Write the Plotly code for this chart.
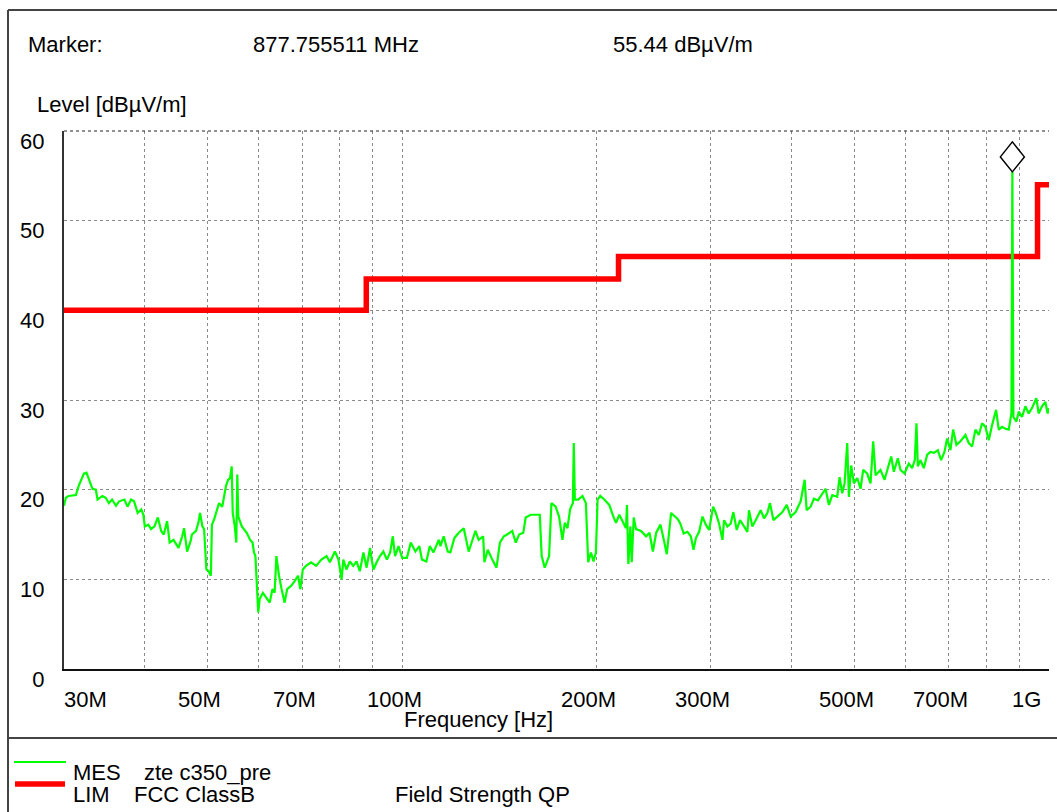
import numpy as np
import plotly.graph_objects as go

# MES trace, frequency in MHz / level in dBuV/m in three pieces
freq_low = [30.0, 30.2, 30.5, 31.3, 31.6, 32.2, 32.5, 32.8, 33.2, 33.6, 33.8, 34.4, 34.8, 35.2, 35.6,
            36.1, 36.5, 37.2, 37.6, 38.1, 38.5, 39.0, 39.5, 39.8, 40.0, 40.5, 40.9, 41.4, 41.9, 42.4,
            42.8, 43.3, 43.7, 44.3, 45.1, 45.7, 46.0, 46.5, 47.1, 47.3, 48.0, 48.4, 48.7, 49.1, 49.4,
            49.8, 50.2, 50.6, 50.8, 51.2, 51.8, 52.1, 52.7, 53.4, 53.8, 54.2, 54.5, 54.7, 55.1, 55.4,
            55.6, 55.8, 56.5, 57.5, 58.2, 58.7, 59.0, 59.3, 59.9, 60.2, 60.9, 61.6, 62.4, 63.0, 63.5,
            63.9, 64.5, 65.1, 65.8, 66.4, 67.4, 68.2, 69.0, 69.6, 70.2, 71.0, 72.3, 73.6, 75.0, 76.4,
            77.3, 78.7, 79.7]
level_low = [18.2, 19.1, 19.3, 19.4, 20.4, 21.8, 21.9, 21.1, 20.1, 20.0, 18.9, 19.3, 19.1, 18.5, 18.9,
             18.2, 18.7, 18.9, 18.1, 18.9, 18.7, 17.4, 17.8, 17.2, 15.9, 16.1, 15.6, 15.9, 16.9, 15.4,
             15.0, 16.5, 14.1, 14.4, 13.5, 14.8, 15.7, 13.1, 14.3, 15.0, 15.4, 16.3, 17.4, 15.9, 15.6,
             11.1, 10.9, 10.4, 16.1, 16.7, 17.8, 18.5, 18.1, 20.4, 21.1, 21.3, 22.6, 17.4, 15.9, 14.1,
             21.7, 17.0, 15.9, 15.2, 14.4, 14.1, 13.0, 12.6, 6.3, 7.8, 8.5, 8.0, 7.4, 8.9, 8.5,
             12.6, 10.4, 8.9, 7.4, 8.9, 9.3, 9.8, 10.4, 8.9, 11.1, 11.5, 11.9, 11.5, 12.2, 12.6,
             11.9, 13.1, 12.2]

freq_mid = [80.6, 81.1, 82.0, 83.0, 84.0, 85.0, 86.0, 87.1, 88.1, 89.2, 89.7, 90.3, 91.3, 92.4, 93.5,
            94.7, 95.8, 96.7, 97.5, 98.7, 100.0, 101.7, 103.1, 104.8, 106.3, 107.3, 109.0, 110.3, 111.8,
            113.9, 114.6, 115.9, 117.6, 118.7, 120.4, 122.3, 124.5, 126.7, 128.3, 129.8, 131.3, 133.4,
            134.0, 135.6, 137.8, 139.9, 141.6, 143.6, 145.3, 148.0, 149.8, 151.6, 153.9, 155.2, 158.0,
            160.8, 163.2, 164.3, 166.1, 168.7, 170.1, 172.7, 174.8, 176.9, 178.4, 180.1, 181.8, 183.6,
            184.2, 184.9, 187.1, 190.0, 192.3, 193.9, 195.8, 197.6, 199.3, 200.5, 202.4, 205.3, 209.0,
            212.3, 214.1, 216.6, 220.0, 221.8, 222.6, 223.7, 225.3, 226.4, 228.0, 229.9, 234.0, 238.3,
            241.2, 244.1, 247.0, 250.8, 253.8, 256.5, 260.5, 263.6, 266.8]
level_mid = [10.0, 12.2, 11.1, 12.0, 11.5, 12.0, 10.9, 13.0, 11.3, 13.5, 12.2, 11.1, 11.9, 12.6, 13.1,
             12.2, 13.0, 14.8, 12.6, 13.7, 12.4, 12.4, 14.1, 13.1, 13.7, 12.2, 12.0, 13.7, 13.0,
             14.4, 13.7, 14.8, 13.1, 13.0, 14.6, 15.2, 15.7, 13.1, 14.3, 15.4, 14.4, 14.8,
             11.9, 13.3, 12.2, 11.3, 14.1, 14.8, 15.0, 15.4, 14.1, 15.0, 15.2, 16.9, 17.2,
             17.2, 17.2, 12.6, 11.3, 12.6, 18.5, 18.1, 17.0, 14.4, 16.3, 15.7, 17.8, 18.5,
             25.2, 18.9, 18.9, 19.3, 18.5, 11.9, 13.0, 12.0, 13.0, 18.9, 19.3, 18.9, 18.3,
             16.9, 16.3, 17.2, 16.3, 15.7, 18.3, 11.7, 15.9, 11.9, 16.9, 15.6, 15.4, 14.8,
             15.2, 13.1, 15.2, 16.1, 14.4, 12.8, 17.4, 17.0, 16.7]

freq_high = [269.2, 272.4, 276.1, 279.4, 282.1, 284.5, 287.8, 291.2, 294.7, 298.2, 302.5, 305.4, 309.0,
             312.7, 314.5, 318.3, 322.0, 325.1, 329.0, 332.9, 337.7, 341.7, 343.7, 347.8, 352.0, 358.3,
             362.6, 366.9, 370.4, 374.9, 380.3, 387.1, 393.1, 398.7, 405.8, 413.1, 419.0, 422.0, 428.0,
             433.1, 439.3, 446.1, 451.4, 456.8, 462.3, 470.5, 474.5, 479.0, 483.0, 487.6, 490.5, 494.6,
             499.3, 505.2, 511.3, 516.1, 523.5, 529.8, 534.8, 539.3, 548.9, 556.8, 565.5, 570.2, 575.6,
             583.8, 589.4, 597.8, 607.1, 614.4, 620.2, 623.9, 626.9, 632.9, 640.4, 648.1, 655.8, 663.7,
             673.1, 681.1, 689.2, 695.8, 704.1, 710.8, 719.3, 729.6, 742.7, 751.6, 760.5, 769.6, 778.8,
             788.1, 797.5, 807.0, 816.6, 828.3, 836.2, 846.2, 856.3, 866.5, 874.8, 877.755511, 881.0,
             890.4, 897.8, 908.5, 919.4, 930.3, 941.3, 955.9, 963.8, 975.4, 987.0, 995.2, 1000.0]
level_high = [16.2, 15.1, 15.3, 14.8, 13.3, 14.6, 15.3, 17.0, 16.1, 15.5, 18.1, 17.4, 16.2,
              14.4, 16.6, 15.9, 16.2, 17.5, 15.5, 16.6, 15.9, 15.3, 17.7, 15.9, 16.6, 17.7,
              16.8, 17.4, 18.5, 16.6, 17.0, 17.5, 18.3, 17.0, 17.5, 18.7, 21.1, 17.7, 18.1,
              19.0, 18.8, 19.6, 20.1, 18.3, 19.4, 19.2, 21.4, 19.6, 20.7, 25.2, 19.2, 22.7,
              20.7, 21.3, 20.1, 22.2, 21.8, 20.7, 25.4, 21.6, 22.2, 21.1, 22.7, 23.7, 22.0,
              23.5, 22.2, 21.8, 22.9, 22.4, 23.3, 27.4, 22.6, 23.3, 22.4, 23.9, 24.2, 24.1,
              24.4, 23.3, 24.2, 25.7, 24.4, 26.7, 25.0, 25.4, 26.1, 25.2, 24.8, 26.7, 26.1,
              27.4, 27.0, 25.5, 27.2, 28.9, 26.7, 27.0, 26.8, 26.7, 28.5, 55.44, 28.1,
              27.6, 28.7, 28.1, 29.3, 28.5, 29.1, 30.2, 28.5, 29.3, 29.8, 28.5, 29.1]

# FCC Class B limit steps
lim_freq = [30, 88, 216, 960, 1000]
lim_level = [40.0, 43.5, 46.0, 54.0, 54.0]

marker_freq = 877.755511
marker_level = 55.44

x_grid = [40, 50, 60, 70, 80, 90, 100, 200, 300, 400, 500, 600, 700, 800, 900, 1000]
x_labels = [30, 50, 70, 100, 200, 300, 500, 700, 1000]
x_label_text = ['30M', '50M', '70M', '100M', '200M', '300M', '500M', '700M', '1G']
y_ticks = [0, 10, 20, 30, 40, 50, 60]

mes_freq = freq_low + freq_mid + freq_high
mes_level = level_low + level_mid + level_high

W, H = 1057, 812
L, R, T, B = 64, 8, 131, 143
FONT = 'Liberation Sans, Arial, sans-serif'


def px(x):
    return (x - L) / (W - L - R)


def py(y):
    return (H - B - y) / (H - T - B)


fig = go.Figure()

fig.add_trace(go.Scatter(x=lim_freq, y=lim_level, mode='lines', line_shape='hv',
                         line=dict(color='#ff0000', width=5.5), hoverinfo='skip'))
fig.add_trace(go.Scatter(x=mes_freq, y=mes_level, mode='lines',
                         line=dict(color='#00ff00', width=2.2), hoverinfo='skip'))

fig.update_layout(
    width=W, height=H,
    margin=dict(l=L, r=R, t=T, b=B),
    paper_bgcolor='white', plot_bgcolor='white',
    showlegend=False,
    font=dict(family=FONT, size=22, color='black'),
)

fig.update_xaxes(type='log', range=[np.log10(30), np.log10(1000)],
                 tickvals=x_grid, showticklabels=False, ticks='',
                 showgrid=True, gridcolor='#8a8a8a', griddash='dot', gridwidth=1,
                 showline=True, linecolor='#111', linewidth=2, zeroline=False)
fig.update_yaxes(range=[0, 60], tickvals=y_ticks, ticks='',
                 ticklabelshift=10, ticklabelstandoff=13,
                 tickfont=dict(family=FONT, size=22, color='black'),
                 showgrid=True, gridcolor='#8a8a8a', griddash='dot', gridwidth=1,
                 showline=True, linecolor='#333', linewidth=2, zeroline=False)

# x tick labels sit a little left of their grid lines
for i, (f, t) in enumerate(zip(x_labels, x_label_text)):
    anchor, shift = 'center', -8
    if i == 0:
        anchor, shift = 'left', -2
    elif i == len(x_labels) - 1:
        anchor, shift = 'right', -6
    fig.add_annotation(x=np.log10(f), xref='x', y=py(699), yref='paper', text=t,
                       showarrow=False, xanchor=anchor, yanchor='middle', xshift=shift,
                       font=dict(size=22))

# top border of the plot is a darker dotted line
fig.add_shape(type='line', xref='paper', yref='paper', x0=0, x1=1, y0=1, y1=1,
              line=dict(color='#222', width=1, dash='dot'))

# marker diamond sitting on the peak
fig.add_shape(type='path', xref='x', yref='y', xsizemode='pixel', ysizemode='pixel',
              xanchor=marker_freq, yanchor=marker_level,
              path='M0,0 L12,15 L0,30 L-12,15 Z',
              line=dict(color='black', width=1.5), fillcolor='white')

# outer frame
frame = dict(color='#444', width=2)
fig.add_shape(type='line', xref='paper', yref='paper', x0=px(8), x1=px(W + 5), y0=py(10), y1=py(10), line=frame)
fig.add_shape(type='line', xref='paper', yref='paper', x0=px(8), x1=px(8), y0=py(10), y1=py(H + 5), line=frame)
fig.add_shape(type='line', xref='paper', yref='paper', x0=px(8), x1=px(W + 5), y0=py(738), y1=py(738), line=frame)

texts = [
    ('Marker:', 26, 44),
    ('877.755511 MHz', 251, 44),
    ('55.44 dBµV/m', 611, 44),
    ('Level [dBµV/m]', 35, 104),
    ('MES', 71, 772),
    ('zte c350_pre', 142, 772),
    ('LIM', 71, 794),
    ('FCC ClassB', 132, 794),
    ('Field Strength QP', 393, 794),
]
for t, x, y in texts:
    fig.add_annotation(x=px(x), y=py(y), xref='paper', yref='paper', text=t, showarrow=False,
                       xanchor='left', yanchor='middle', font=dict(size=22))

fig.add_annotation(x=px(478), y=py(719), xref='paper', yref='paper', text='Frequency [Hz]',
                   showarrow=False, xanchor='center', yanchor='middle', font=dict(size=22))

# legend swatches
fig.add_shape(type='line', xref='paper', yref='paper', x0=px(14), x1=px(66), y0=py(762), y1=py(762),
              line=dict(color='#00ff00', width=2))
fig.add_shape(type='line', xref='paper', yref='paper', x0=px(15), x1=px(65), y0=py(784), y1=py(784),
              line=dict(color='#ff0000', width=5.5))

# drop the default page margin so the figure sits at the window's corner
fig.write_html('out.html', config={'displayModeBar': False},
               post_script="document.body.style.margin='0';")
